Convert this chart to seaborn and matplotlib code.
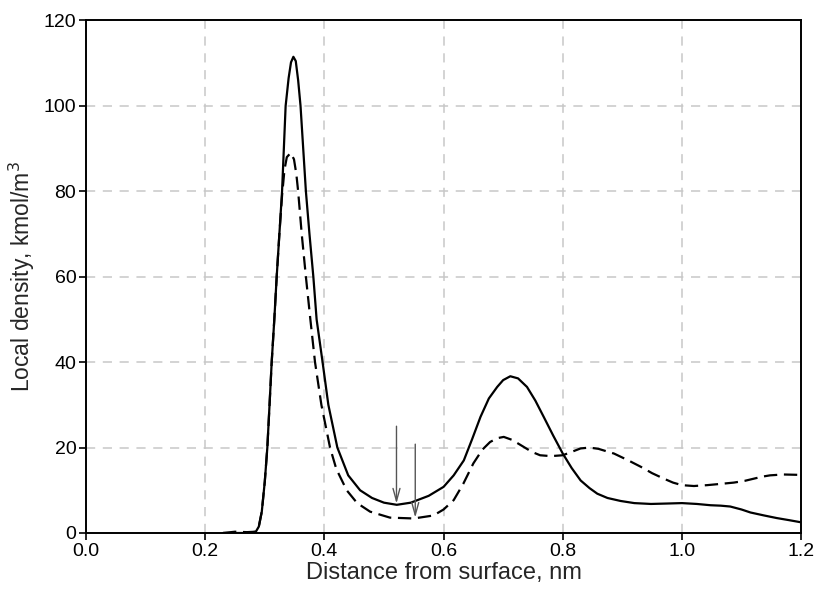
import matplotlib
matplotlib.use("Agg")
import matplotlib.pyplot as plt
import seaborn as sns
import pandas as pd

# Solid curve
x_solid = [0.23, 0.25, 0.27, 0.285, 0.290, 0.295, 0.300, 0.3043, 0.308, 0.3116, 0.316, 0.320,
           0.3245, 0.329, 0.332, 0.335, 0.340, 0.344, 0.348, 0.352, 0.356, 0.360, 0.3645,
           0.369, 0.375, 0.3815, 0.387, 0.397, 0.4067, 0.4218, 0.44, 0.46, 0.48, 0.50,
           0.5215, 0.545, 0.575, 0.6, 0.617, 0.634, 0.648, 0.662, 0.676, 0.69, 0.70, 0.712,
           0.725, 0.74, 0.754, 0.768, 0.784, 0.8, 0.815, 0.83, 0.845, 0.858, 0.875, 0.897,
           0.92, 0.948, 0.975, 1.0, 1.025, 1.048, 1.065, 1.081, 1.1, 1.115, 1.138, 1.159,
           1.18, 1.2]
y_solid = [0, 0, 0, 0.3, 1.5, 5, 12, 20, 30, 40, 50, 60,
           70, 80, 90, 100, 106.5, 110.2, 111.5, 110.5, 106, 100, 90,
           80, 70, 60, 50, 40, 30, 20, 13.5, 10, 8.2, 7.1,
           6.6, 7.1, 8.7, 10.8, 13.5, 17.0, 22, 27.2, 31.5, 34.2, 35.8, 36.7,
           36.2, 34.2, 31, 27.2, 22.8, 18.6, 15.2, 12.3, 10.5, 9.2, 8.2, 7.5,
           7.0, 6.8, 6.9, 7.0, 6.8, 6.5, 6.4, 6.2, 5.5, 4.8, 4.1, 3.5,
           3.0, 2.5]

# Dashed curve
x_dash = [0.23, 0.25, 0.27, 0.285, 0.290, 0.295, 0.300, 0.3043, 0.308, 0.3116, 0.316, 0.320,
          0.3245, 0.329, 0.333, 0.337, 0.3435, 0.349, 0.353, 0.356, 0.362, 0.369, 0.3765,
          0.3843, 0.395, 0.4095, 0.42, 0.4375, 0.455, 0.4767, 0.51, 0.55, 0.583, 0.6,
          0.617, 0.633, 0.65, 0.665, 0.678, 0.69, 0.701, 0.715, 0.734, 0.748, 0.762, 0.78,
          0.8, 0.815, 0.83, 0.845, 0.86, 0.886, 0.91, 0.931, 0.95, 0.97, 0.985, 1.0, 1.02,
          1.042, 1.065, 1.087, 1.105, 1.12, 1.135, 1.148, 1.17, 1.2]
y_dash = [0, 0.3, 0.2, 0.3, 1.5, 5, 12, 20, 30, 40, 50, 60,
          70, 79, 85, 88, 89, 87.5, 84, 80, 70, 60, 50,
          40, 30, 20, 15, 10, 7, 5, 3.6, 3.4, 4.1, 5.5,
          7.7, 11.5, 16.3, 19.5, 21.3, 22.2, 22.5, 21.8, 20.2, 19.0, 18.2, 18.0,
          18.2, 19.0, 19.8, 20.0, 19.7, 18.6, 17.0, 15.5, 14.0, 12.7, 11.8, 11.2, 11.0,
          11.2, 11.5, 11.8, 12.2, 12.7, 13.2, 13.5, 13.7, 13.6]

# Arrows (x position, top value, tip value)
arrow_x = [0.521, 0.5525]
arrow_top = [25.0, 20.8]
arrow_tip = [6.9, 3.6]

x_ticks = [0.0, 0.2, 0.4, 0.6, 0.8, 1.0, 1.2]
y_ticks = [0, 20, 40, 60, 80, 100, 120]

sns.set_style("white")
plt.rcParams['font.family'] = ['Liberation Sans', 'DejaVu Sans']

fig = plt.figure(figsize=(8.15, 5.94), dpi=100)
ax = fig.add_axes([0.1055, 0.1027, 0.8775, 0.8628])

df_s = pd.DataFrame({"x": x_solid, "y": y_solid})
df_d = pd.DataFrame({"x": x_dash, "y": y_dash})
sns.lineplot(data=df_s, x="x", y="y", ax=ax, color="black", lw=1.6, sort=False)
sns.lineplot(data=df_d, x="x", y="y", ax=ax, color="black", lw=1.6, sort=False,
             dashes=False, linestyle=(0, (6, 3)))

for xa, yt, yb in zip(arrow_x, arrow_top, arrow_tip):
    ax.annotate("", xy=(xa, yb), xytext=(xa, yt),
                arrowprops=dict(arrowstyle="->,head_length=0.9,head_width=0.25",
                                color="#555555", lw=1.0, shrinkA=0, shrinkB=0))

ax.set_xlim(0, 1.2)
ax.set_ylim(0, 120)
ax.set_xticks(x_ticks)
ax.set_xticklabels([f"{v:.1f}" for v in x_ticks])
ax.set_yticks(y_ticks)
ax.grid(True, color="#c8c8c8", linestyle=(0, (6, 5)), lw=1.1)
ax.set_axisbelow(True)
for s in ax.spines.values():
    s.set_color("black")
    s.set_linewidth(1.4)
ax.tick_params(axis="both", which="both", direction="out", length=5, width=1.2,
               labelsize=14, colors="black", bottom=True, left=True, pad=2)
ax.set_xlabel("Distance from surface, nm", fontsize=17, labelpad=2)
ax.set_ylabel("Local density, kmol/m$^3$", fontsize=16.5, labelpad=5)

fig.savefig("out.png", dpi=100)
